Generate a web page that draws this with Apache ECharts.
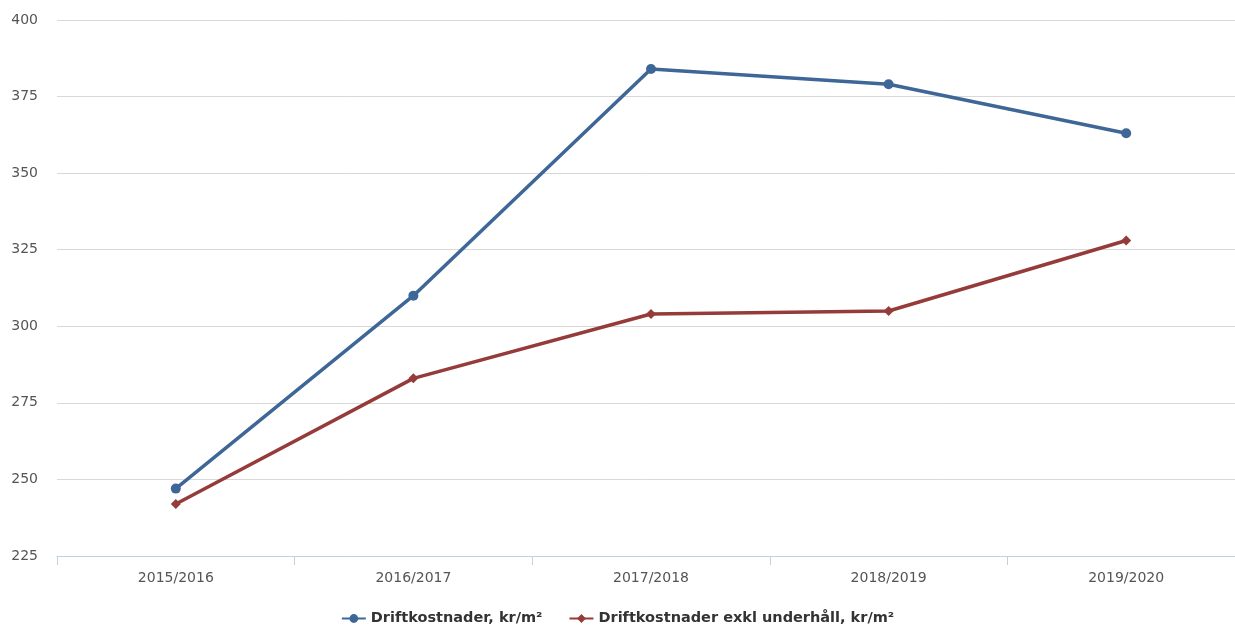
<!DOCTYPE html>
<html>
<head>
<meta charset="utf-8">
<script src="https://cdn.jsdelivr.net/npm/echarts@6/dist/echarts.min.js"></script>
<style>
  html, body { margin: 0; padding: 0; background: #ffffff; }
  #chart { width: 1235px; height: 626px; }
</style>
</head>
<body>
<div id="chart"></div>
<script>
// Operating costs per square metre, by fiscal year
const years = ['2015/2016', '2016/2017', '2017/2018', '2018/2019', '2019/2020'];
const driftkostnader = [247, 310, 384, 379, 363];
const exklUnderhall = [242, 283, 304, 305, 328];
const yTicks = { min: 225, max: 400, step: 25 };

const chart = echarts.init(document.getElementById('chart'), null, { renderer: 'canvas' });

chart.setOption({
  animation: false,
  textStyle: { fontFamily: 'DejaVu Sans' },
  // plot area runs slightly past the right edge of the canvas
  grid: { left: 57, width: 1188, top: 20, height: 536, outerBoundsMode: 'none', containLabel: false },
  legend: {
    top: 606,
    left: 'center',
    itemWidth: 24,
    itemHeight: 11,
    itemGap: 26,
    textStyle: { fontFamily: 'DejaVu Sans', fontWeight: 'bold', fontSize: 14.5, color: '#333333' },
    data: ['Driftkostnader, kr/m²', 'Driftkostnader exkl underhåll, kr/m²']
  },
  xAxis: {
    type: 'category',
    data: years,
    boundaryGap: true,
    axisLine: { lineStyle: { color: '#c0d0e0', width: 1 } },
    axisTick: { show: true, length: 9, lineStyle: { color: '#c0d0e0' } },
    axisLabel: { color: '#555555', fontSize: 14, margin: 15 }
  },
  yAxis: {
    type: 'value',
    min: yTicks.min,
    max: yTicks.max,
    interval: yTicks.step,
    axisLine: { show: false },
    axisTick: { show: false },
    splitLine: { lineStyle: { color: '#d8d8d8', width: 1 } },
    axisLabel: { color: '#555555', fontSize: 14, margin: 19 }
  },
  series: [
    {
      name: 'Driftkostnader, kr/m²',
      type: 'line',
      data: driftkostnader,
      symbol: 'circle',
      symbolSize: 10,
      lineStyle: { color: '#3e6797', width: 3.5 },
      itemStyle: { color: '#3e6797' }
    },
    {
      name: 'Driftkostnader exkl underhåll, kr/m²',
      type: 'line',
      data: exklUnderhall,
      symbol: 'diamond',
      symbolSize: 10,
      lineStyle: { color: '#953b39', width: 3.5 },
      itemStyle: { color: '#953b39' }
    }
  ]
});
</script>
</body>
</html>
